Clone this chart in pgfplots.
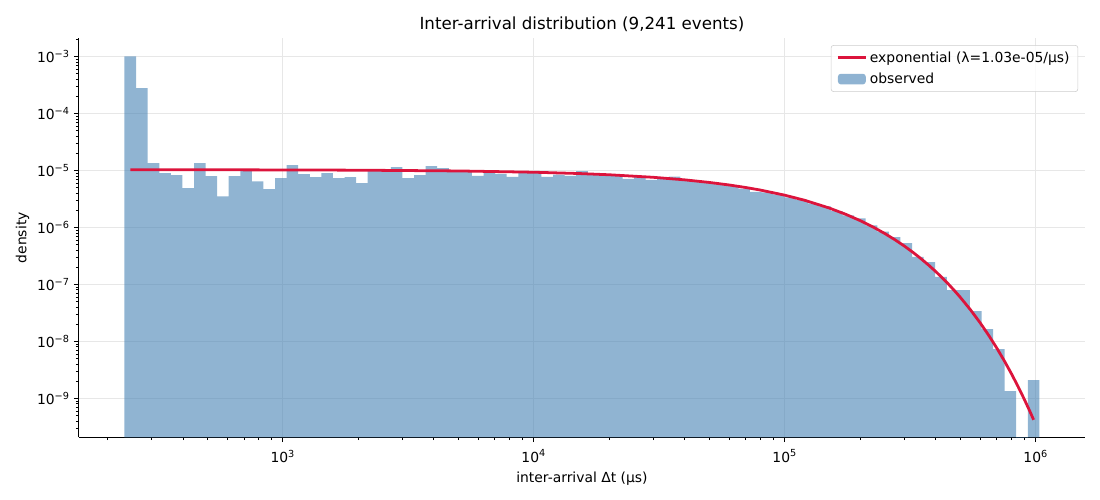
\documentclass[border=0pt]{standalone}
\usepackage{fontspec}
\setmainfont{DejaVu Sans}
\usepackage{pgfplots}
\pgfplotsset{compat=1.18}
\usepackage{pgfplotstable}
\definecolor{steelblue}{RGB}{70,130,180}
\definecolor{crimson}{RGB}{220,20,60}
\definecolor{gridc}{RGB}{231,231,231}
\definecolor{legc}{RGB}{204,204,204}
\newcommand{\pw}[1]{10\textsuperscript{#1}}

\pgfplotstableread{
edge dens
234.0 1.0e-3
260.3 2.78e-4
289.5 1.34e-5
321.9 8.97e-6
358.0 8.28e-6
398.1 4.9e-6
442.8 1.34e-5
492.4 7.9e-6
547.6 3.5e-6
609.0 7.9e-6
677.3 1.01e-5
753.2 6.4e-6
837.6 4.7e-6
931.6 7.3e-6
1036.0 1.24e-5
1152.1 8.6e-6
1281.3 7.6e-6
1424.9 8.97e-6
1584.7 7.3e-6
1762.3 7.6e-6
1959.9 6.0e-6
2179.6 1.0e-5
2423.9 1.0e-5
2695.7 1.14e-5
2997.9 7.3e-6
3334.0 8.3e-6
3707.7 1.19e-5
4123.4 1.1e-5
4585.6 9.9e-6
5099.7 9.7e-6
5671.3 8.0e-6
6307.1 9.3e-6
7014.1 8.7e-6
7800.4 7.7e-6
8674.8 9.2e-6
9647.3 9.0e-6
10729 7.7e-6
11931 8.4e-6
13269 8.0e-6
14756 9.7e-6
16410 8.4e-6
18250 8.2e-6
20296 8.0e-6
22571 7.1e-6
25101 7.7e-6
27915 6.8e-6
31044 7.6e-6
34524 7.8e-6
38394 6.8e-6
42698 6.4e-6
47484 6.0e-6
52807 5.67e-6
58727 5.3e-6
65311 4.77e-6
72632 4.2e-6
80774 4.1e-6
89829 3.8e-6
99901 3.36e-6
111100 3.0e-6
123550 2.63e-6
137400 2.34e-6
152800 1.93e-6
169930 1.62e-6
188980 1.44e-6
210170 1.08e-6
233730 8.4e-7
259930 6.76e-7
289070 5.3e-7
321470 3.05e-7
357510 2.46e-7
397590 1.36e-7
442160 7.9e-8
491720 7.9e-8
546850 3.4e-8
608150 1.64e-8
676320 7.3e-9
752140 1.34e-9
836450 1e-12
930220 2.09e-9
1034500 2.09e-9
}\histdata

\pgfplotstableread{
t f
246.9 1.0274e-5
500 1.0247e-5
1000 1.0194e-5
2000 1.0090e-5
5000 9.783e-6
10000 9.292e-6
15000 8.826e-6
20000 8.383e-6
30000 7.562e-6
40000 6.822e-6
50000 6.154e-6
60000 5.552e-6
70000 5.008e-6
80000 4.518e-6
100000 3.677e-6
120000 2.993e-6
150000 2.197e-6
175000 1.698e-6
200000 1.313e-6
225000 1.0146e-6
250000 7.845e-7
275000 6.064e-7
300000 4.687e-7
325000 3.623e-7
350000 2.800e-7
375000 2.165e-7
400000 1.673e-7
425000 1.293e-7
450000 9.997e-8
475000 7.727e-8
500000 5.973e-8
550000 3.569e-8
600000 2.132e-8
650000 1.274e-8
700000 7.61e-9
750000 4.548e-9
800000 2.717e-9
850000 1.624e-9
900000 9.70e-10
950000 5.80e-10
981000 4.21e-10
}\fitdata

\begin{document}
\begin{tikzpicture}
\begin{axis}[
  scale only axis,
  width=724.6pt, height=287.5pt,
  xmode=log, ymode=log,
  log origin y=infty,
  xmin=153.8, xmax=1.574e6,
  ymin=2.07e-10, ymax=2.1e-3,
  axis x line*=bottom, axis y line*=left,
  axis line style={-, line width=0.8pt, black},
  tick align=outside,
  major tick length=3.5pt, minor tick length=2pt,
  every tick/.style={black, line width=0.8pt},
  minor tick style={black, line width=0.6pt},
  xtick={1000,10000,100000,1000000},
  xticklabels={\pw{3},\pw{4},\pw{5},\pw{6}},
  minor xtick={200,300,400,500,600,700,800,900,2000,3000,4000,5000,6000,7000,8000,9000,20000,30000,40000,50000,60000,70000,80000,90000,200000,300000,400000,500000,600000,700000,800000,900000},
  ytick={1e-9,1e-8,1e-7,1e-6,1e-5,1e-4,1e-3},
  yticklabels={\pw{−9},\pw{−8},\pw{−7},\pw{−6},\pw{−5},\pw{−4},\pw{−3}},
  minor ytick={3e-10,4e-10,5e-10,6e-10,7e-10,8e-10,9e-10,2e-9,3e-9,4e-9,5e-9,6e-9,7e-9,8e-9,9e-9,2e-8,3e-8,4e-8,5e-8,6e-8,7e-8,8e-8,9e-8,2e-7,3e-7,4e-7,5e-7,6e-7,7e-7,8e-7,9e-7,2e-6,3e-6,4e-6,5e-6,6e-6,7e-6,8e-6,9e-6,2e-5,3e-5,4e-5,5e-5,6e-5,7e-5,8e-5,9e-5,2e-4,3e-4,4e-4,5e-4,6e-4,7e-4,8e-4,9e-4,2e-3},
  xmajorgrids, ymajorgrids,
  major grid style={gridc, line width=0.8pt},
  tick label style={font=\fontsize{10}{12}\selectfont},
  xticklabel style={yshift=-2pt},
  yticklabel style={xshift=0.5pt},
  title={Inter-arrival distribution (9,241 events)},
  title style={font=\fontsize{12}{14}\selectfont, at={(0.5,1)}, anchor=base, yshift=0.5pt},
  xlabel={inter-arrival Δt (µs)},
  ylabel={density},
  label style={font=\fontsize{10}{12}\selectfont},
  xlabel style={at={(0.5,0)}, anchor=base, yshift=-32.7pt},
  ylabel style={at={(-0.052,0.5)}, anchor=base},
  legend cell align=left,
  reverse legend,
  legend style={font=\fontsize{10}{12}\selectfont, draw=legc, rounded corners=2pt,
    fill=white, fill opacity=0.8, text opacity=1, at={(1,1)}, anchor=north east,
    xshift=-5pt, yshift=-5pt, inner xsep=4pt, inner ysep=2.5pt, row sep=2.2pt},
]
\addplot [ybar interval, draw=none, fill=steelblue, fill opacity=0.6,
  legend image code/.code={\fill[steelblue, fill opacity=0.6] (0pt,-3.8pt) rectangle (20pt,3.8pt);}]
  table [x=edge, y=dens] {\histdata};
\addlegendentry{observed}
\addplot [crimson, line width=2pt, no marks,
  legend image code/.code={\draw[crimson, line width=2pt] (0pt,0pt) -- (20pt,0pt);}]
  table [x=t, y=f] {\fitdata};
\addlegendentry{exponential (λ=1.03e-05/µs)}
\end{axis}
\pgfresetboundingbox
\path[use as bounding box] ([xshift=-56.7pt,yshift=-45.1pt]current axis.south west) rectangle ([xshift=10.7pt,yshift=27.4pt]current axis.north east);
\end{tikzpicture}
\end{document}
